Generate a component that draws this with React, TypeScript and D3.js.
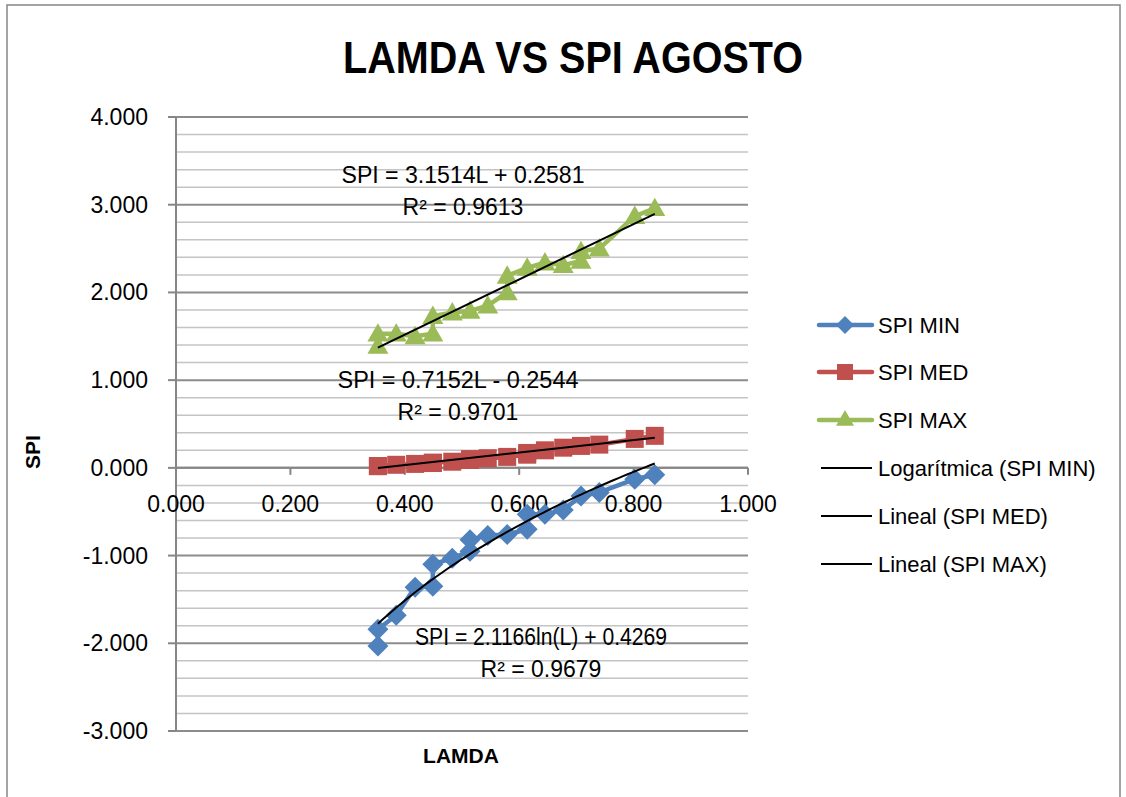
import React from "react";
import * as d3 from "d3";

const TITLE = "LAMDA VS SPI AGOSTO";
const X_TICKS = [0, 0.2, 0.4, 0.6, 0.8, 1.0];
const Y_TICKS = [-3, -2, -1, 0, 1, 2, 3, 4];

const MIN_L = [0.353, 0.353, 0.385, 0.418, 0.449, 0.449, 0.483, 0.514, 0.514, 0.545, 0.579, 0.614, 0.614, 0.645, 0.677, 0.708, 0.74, 0.802, 0.837];
const MIN_SPI = [-2.03, -1.84, -1.68, -1.36, -1.35, -1.1, -1.03, -0.95, -0.82, -0.77, -0.76, -0.7, -0.53, -0.53, -0.48, -0.32, -0.28, -0.13, -0.08];

const MED_L = [0.353, 0.353, 0.385, 0.418, 0.449, 0.449, 0.483, 0.514, 0.514, 0.545, 0.579, 0.614, 0.614, 0.645, 0.677, 0.708, 0.74, 0.802, 0.837];
const MED_SPI = [0.02, 0.02, 0.035, 0.045, 0.055, 0.06, 0.07, 0.09, 0.1, 0.11, 0.125, 0.15, 0.17, 0.2, 0.23, 0.25, 0.265, 0.33, 0.365];

const MAX_L = [0.353, 0.353, 0.385, 0.418, 0.449, 0.449, 0.483, 0.514, 0.545, 0.579, 0.579, 0.614, 0.645, 0.677, 0.708, 0.708, 0.74, 0.802, 0.837];
const MAX_SPI = [1.39, 1.53, 1.53, 1.5, 1.53, 1.73, 1.77, 1.79, 1.85, 2.0, 2.19, 2.28, 2.34, 2.31, 2.36, 2.47, 2.5, 2.87, 2.96];

// trendline coefficients (from the chart's equations)
const LOG_MIN = [2.1166, 0.4269];
const LIN_MED = [0.7152, -0.2544];
const LIN_MAX = [3.1514, 0.2581];

const LEGEND = ["SPI MIN", "SPI MED", "SPI MAX", "Logarítmica (SPI MIN)", "Lineal (SPI MED)", "Lineal (SPI MAX)"];
const EQ_LABELS = [
  ["SPI = 3.1514L + 0.2581", "R² = 0.9613"],
  ["SPI = 0.7152L - 0.2544", "R² = 0.9701"],
  ["SPI = 2.1166ln(L) + 0.4269", "R² = 0.9679"],
];

const BLUE = "#4F81BD";
const RED = "#C0504D";
const GREEN = "#9BBB59";
const FONT = "'Liberation Sans', Arial, sans-serif";

const fmt = (v: number) => d3.format(".3f")(v).replace("\u2212", "-");

export default function App() {
  const W = 1126, H = 797;
  const x = d3.scaleLinear().domain([0, 1]).range([176, 748]);
  const y = d3.scaleLinear().domain([-3, 4]).range([731, 117]);
  const minor = d3.range(-3, 4.0001, 0.2);

  const line = d3.line<[number, number]>().x(d => x(d[0])).y(d => y(d[1]));
  const zip = (a: number[], b: number[]) => a.map((v, i) => [v, b[i]] as [number, number]);
  const minPts = zip(MIN_L, MIN_SPI);
  const medPts = zip(MED_L, MED_SPI);
  const maxPts = zip(MAX_L, MAX_SPI);

  const logTrend = d3.range(0, 61).map(i => {
    const L = MIN_L[0] + (MIN_L[MIN_L.length - 1] - MIN_L[0]) * i / 60;
    return [L, LOG_MIN[0] * Math.log(L) + LOG_MIN[1]] as [number, number];
  });
  const linTrend = (Ls: number[], c: number[]) => [Ls[0], Ls[Ls.length - 1]].map(L => [L, c[0] * L + c[1]] as [number, number]);

  const diamond = (cx: number, cy: number, r = 10.5) => `M${cx},${cy - r}L${cx + r},${cy}L${cx},${cy + r}L${cx - r},${cy}Z`;
  const tri = (cx: number, cy: number, s = 10.5) => `M${cx},${cy - s}L${cx + s},${cy + s * 0.75}L${cx - s},${cy + s * 0.75}Z`;

  const legY = [325, 372, 420, 468, 516, 564];
  const eqPos = [[463, 183, 243], [458, 388, 241], [541, 645, 252]];

  return (
    <svg width={W} height={H} style={{ position: "absolute", left: 0, top: 0, background: "#fff" }} fontFamily={FONT}>
      <rect x={0} y={0} width={W} height={H} fill="#fff" />
      <rect x={7} y={5} width={1113} height={H + 20} fill="none" stroke="#868686" strokeWidth={1.5} />
      <text x={573} y={73} textAnchor="middle" fontWeight="bold" fontSize={44} textLength={460} lengthAdjust="spacingAndGlyphs">{TITLE}</text>

      {/* gridlines */}
      {minor.map((v, i) => {
        const major = Math.abs(v - Math.round(v)) < 1e-6;
        return <line key={"g" + i} x1={176} x2={748} y1={y(v)} y2={y(v)} stroke={major ? "#8c8c8c" : "#c4c4c4"} strokeWidth={major ? 2 : 1.5} />;
      })}

      {/* y axis */}
      <line x1={176} x2={176} y1={y(4)} y2={y(-3)} stroke="#868686" strokeWidth={2} />
      {Y_TICKS.map(v => (
        <g key={"yt" + v}>
          <line x1={168} x2={176} y1={y(v)} y2={y(v)} stroke="#868686" strokeWidth={2} />
          <text x={148} y={y(v) + 8} textAnchor="end" fontSize={23}>{fmt(v)}</text>
        </g>
      ))}
      {/* x axis at y=0 */}
      <line x1={176} x2={748} y1={y(0)} y2={y(0)} stroke="#868686" strokeWidth={2} />
      {X_TICKS.map(v => (
        <g key={"xt" + v}>
          <line x1={x(v)} x2={x(v)} y1={y(0)} y2={y(0) + 7} stroke="#868686" strokeWidth={2} />
          <text x={x(v)} y={y(0) + 44} textAnchor="middle" fontSize={23}>{fmt(v)}</text>
        </g>
      ))}

      {/* series */}
      <path d={line(maxPts) || ""} fill="none" stroke={GREEN} strokeWidth={4.5} />
      {maxPts.map((p, i) => <path key={"mx" + i} d={tri(x(p[0]), y(p[1]))} fill={GREEN} />)}
      <path d={line(medPts) || ""} fill="none" stroke={RED} strokeWidth={4.5} />
      {medPts.map((p, i) => <rect key={"md" + i} x={x(p[0]) - 9} y={y(p[1]) - 9} width={18} height={18} fill={RED} />)}
      <path d={line(minPts) || ""} fill="none" stroke={BLUE} strokeWidth={4.5} />
      {minPts.map((p, i) => <path key={"mn" + i} d={diamond(x(p[0]), y(p[1]))} fill={BLUE} />)}

      {/* trendlines */}
      <path d={line(logTrend) || ""} fill="none" stroke="#000" strokeWidth={2} />
      <path d={line(linTrend(MED_L, LIN_MED)) || ""} fill="none" stroke="#000" strokeWidth={2} />
      <path d={line(linTrend(MAX_L, LIN_MAX)) || ""} fill="none" stroke="#000" strokeWidth={2} />

      {/* equations */}
      {EQ_LABELS.map((lab, i) => (
        <g key={"eq" + i}>
          <text x={eqPos[i][0]} y={eqPos[i][1]} textAnchor="middle" fontSize={23} textLength={eqPos[i][2]} lengthAdjust="spacingAndGlyphs">{lab[0]}</text>
          <text x={eqPos[i][0]} y={eqPos[i][1] + 32} textAnchor="middle" fontSize={23}>{lab[1]}</text>
        </g>
      ))}

      {/* axis titles */}
      <text x={461} y={763} textAnchor="middle" fontWeight="bold" fontSize={21}>LAMDA</text>
      <text transform="translate(40,452) rotate(-90)" textAnchor="middle" fontWeight="bold" fontSize={21}>SPI</text>

      {/* legend */}
      {LEGEND.map((t, i) => {
        const ly = legY[i];
        const col = [BLUE, RED, GREEN][i];
        return (
          <g key={"lg" + i}>
            {i < 3 ? (
              <>
                <line x1={819} x2={872} y1={ly} y2={ly} stroke={col} strokeWidth={4.5} strokeLinecap="round" />
                {i === 0 && <path d={diamond(845, ly, 9)} fill={col} />}
                {i === 1 && <rect x={837} y={ly - 8} width={16} height={16} fill={col} />}
                {i === 2 && <path d={tri(845, ly - 1, 9)} fill={col} />}
              </>
            ) : (
              <line x1={821} x2={872} y1={ly} y2={ly} stroke="#000" strokeWidth={2} />
            )}
            <text x={878} y={ly + 8} fontSize={22}>{t}</text>
          </g>
        );
      })}
    </svg>
  );
}
